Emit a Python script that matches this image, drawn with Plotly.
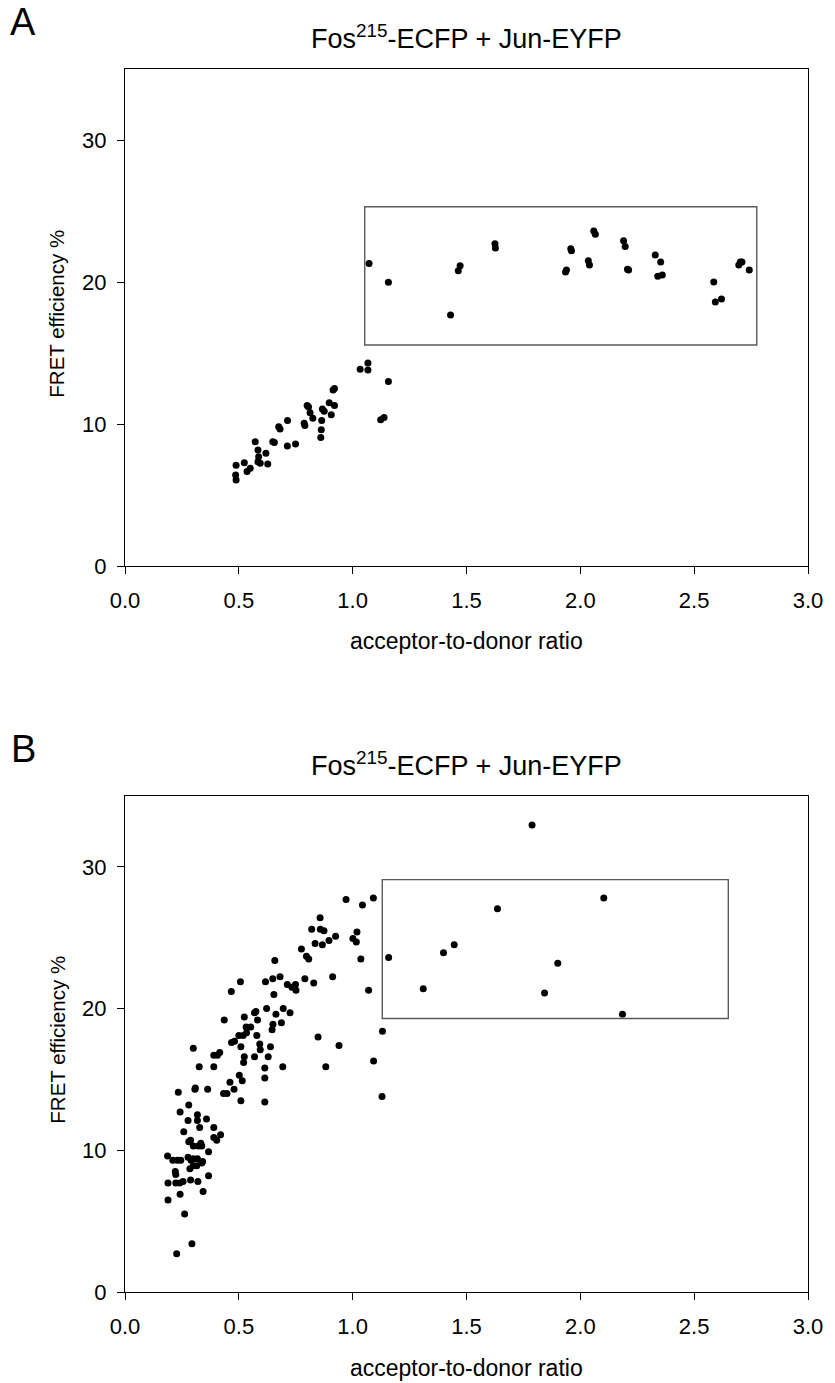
import plotly.graph_objects as go
from plotly.subplots import make_subplots

# ---------------- Data ----------------
# Panel A: Fos215-ECFP + Jun-EYFP
a_x = [0.486, 0.488, 0.488, 0.524, 0.536, 0.550, 0.572, 0.584, 0.584, 0.594,
       0.587, 0.619, 0.627, 0.649, 0.656, 0.675, 0.681, 0.713, 0.714, 0.749,
       0.787, 0.790, 0.800, 0.806, 0.813, 0.825, 0.860, 0.862, 0.864, 0.867,
       0.875, 0.897, 0.906, 0.914, 0.920, 0.920, 1.033, 1.067, 1.067, 1.123,
       1.138, 1.157,
       1.072, 1.157, 1.430, 1.464, 1.472, 1.625, 1.627, 1.935, 1.939, 1.958,
       1.961, 2.035, 2.040, 2.059, 2.066, 2.190, 2.197, 2.207, 2.212, 2.329,
       2.353, 2.340, 2.360, 2.586, 2.593, 2.620, 2.696, 2.703, 2.710, 2.742]
a_y = [6.40, 6.06, 7.10, 7.27, 6.65, 6.88, 8.75, 8.17, 7.35, 7.23,
       7.70, 7.94, 7.18, 8.75, 8.70, 9.80, 9.65, 8.45, 10.25, 8.60,
       10.05, 9.90, 11.30, 11.20, 10.80, 10.40, 9.05, 9.60, 10.25, 11.05,
       10.90, 11.50, 10.65, 12.40, 12.50, 11.30, 13.85, 14.30, 13.80, 10.30,
       10.45, 13.00,
       21.30, 19.98, 17.68, 20.80, 21.15, 22.70, 22.40, 20.70, 20.85, 22.35,
       22.20, 21.50, 21.20, 23.60, 23.36, 22.90, 22.50, 20.90, 20.85, 21.90,
       21.40, 20.40, 20.50, 20.00, 18.60, 18.80, 21.20, 21.40, 21.40, 20.85]

# Panel B: Fos215-ECFP + Jun-EYFP
b_x = [0.187, 0.189, 0.189, 0.234, 0.242, 0.258, 0.277, 0.280, 0.300, 0.307,
       0.309, 0.326, 0.318, 0.318, 0.328, 0.358, 0.363, 0.390, 0.390, 0.406,
       0.416, 0.436, 0.390, 0.390, 0.403, 0.420, 0.367, 0.367, 0.343, 0.320,
       0.288, 0.262, 0.294, 0.227, 0.242, 0.223, 0.240, 0.255, 0.221, 0.223,
       0.210, 0.230, 0.245, 0.277, 0.290, 0.300, 0.318, 0.285, 0.300, 0.315,
       0.337, 0.341, 0.280, 0.288, 0.300, 0.322, 0.337, 0.333, 0.433, 0.448,
       0.461, 0.479, 0.509, 0.502, 0.515, 0.521, 0.524, 0.509, 0.468, 0.481,
       0.500, 0.519, 0.534, 0.532, 0.552, 0.524, 0.569, 0.575, 0.582, 0.579,
       0.592, 0.594, 0.569, 0.614, 0.614, 0.614, 0.629, 0.639, 0.646, 0.650,
       0.622, 0.663, 0.687, 0.695, 0.725, 0.693, 0.848, 0.882, 0.940, 1.092,
       1.131, 1.129, 2.185,
       0.971, 1.043, 1.091, 0.857, 0.820, 0.858, 0.874, 0.835, 0.867, 0.896,
       0.925, 1.001, 1.019, 1.016, 0.775, 0.797, 0.807, 1.036, 1.158, 0.658,
       1.310, 1.070, 0.912, 0.790, 0.829, 0.681, 0.649, 0.617, 0.507, 0.467,
       0.654, 0.713, 0.749, 0.733, 0.751,
       1.399, 1.446, 1.636, 2.103, 1.901, 1.843, 1.788]
b_y = [9.6, 7.7, 6.5, 14.1, 12.7, 11.3, 12.1, 13.2, 17.2, 14.3,
       14.4, 15.9, 12.5, 12.1, 11.6, 12.2, 14.3, 15.9, 16.7, 16.7,
       16.9, 19.2, 11.6, 10.9, 10.7, 11.1, 9.9, 8.2, 7.1, 7.8,
       7.9, 5.5, 3.4, 2.7, 6.9, 7.7, 7.7, 7.8, 8.5, 8.3,
       9.3, 9.3, 9.3, 9.5, 9.3, 9.4, 9.4, 8.7, 8.9, 8.9,
       9.1, 9.2, 10.6, 10.7, 10.3, 10.3, 10.3, 10.5, 14.0, 14.0,
       14.8, 14.3, 13.5, 15.3, 14.9, 16.2, 16.6, 17.3, 17.6, 17.7,
       18.1, 18.1, 18.3, 18.7, 18.7, 19.4, 19.7, 19.8, 19.2, 18.1,
       17.5, 17.1, 16.6, 15.8, 15.1, 13.4, 16.6, 17.3, 18.5, 18.9,
       20.0, 19.6, 19.0, 20.0, 19.7, 15.9, 18.0, 15.9, 17.4, 16.3,
       18.4, 13.8, 19.6,
       27.7, 27.3, 27.8, 26.4, 25.6, 25.6, 25.5, 24.6, 24.5, 24.8,
       25.1, 24.95, 25.4, 24.7, 24.2, 23.7, 23.5, 23.5, 23.6, 23.4,
       21.4, 21.3, 22.25, 22.1, 21.8, 22.25, 22.1, 21.9, 21.9, 21.2,
       21.0, 21.7, 21.7, 21.5, 21.3,
       23.94, 24.5, 27.04, 27.8, 23.2, 21.1, 32.96]

# Highlight rectangles (data units): x0, x1, y0, y1
a_box = [1.053, 2.775, 15.56, 25.3]
b_box = [1.13, 2.65, 19.3, 29.1]

title_text = "Fos<sup>215</sup>-ECFP + Jun-EYFP"
x_title = "acceptor-to-donor ratio"
y_title = "FRET efficiency %"
x_ticks = [0.0, 0.5, 1.0, 1.5, 2.0, 2.5, 3.0]
y_ticks = [0, 10, 20, 30]

# ---------------- Figure ----------------
FONT = "Liberation Sans, Arial, sans-serif"
W, H = 835, 1383
ML, MR, MT, MB = 125, 20, 69, 91
PH = H - MT - MB  # plot-area height in px

def py(Y):
    """pixel row -> paper fraction"""
    return (H - MB - Y) / PH

def px(X):
    return (X - ML) / (W - ML - MR)

fig = make_subplots(rows=2, cols=1, vertical_spacing=0.0)

fig.add_trace(go.Scatter(x=a_x, y=a_y, mode="markers",
                         marker=dict(color="black", size=7),
                         showlegend=False), row=1, col=1)
fig.add_trace(go.Scatter(x=b_x, y=b_y, mode="markers",
                         marker=dict(color="black", size=7),
                         showlegend=False), row=2, col=1)

axis_common = dict(showline=True, mirror=True, linecolor="black", linewidth=1.3,
                   ticks="outside", ticklen=7, tickwidth=1.2, tickcolor="black",
                   showgrid=False, zeroline=False,
                   tickfont=dict(family=FONT, size=22, color="black"))

fig.update_xaxes(range=[0, 3], tickvals=x_ticks,
                 ticktext=[f"{v:.1f}" for v in x_ticks],
                 ticklabelstandoff=7, **axis_common)
fig.update_yaxes(range=[0, 35], tickvals=y_ticks, ticklabelstandoff=6,
                 **axis_common)

fig.update_layout(
    yaxis=dict(domain=[py(566), 1.0]),
    yaxis2=dict(domain=[0.0, py(796)]),
)

# Rectangles
fig.add_shape(type="rect", xref="x", yref="y",
              x0=a_box[0], x1=a_box[1], y0=a_box[2], y1=a_box[3],
              line=dict(color="#5a5a5a", width=1.4))
fig.add_shape(type="rect", xref="x2", yref="y2",
              x0=b_box[0], x1=b_box[1], y0=b_box[2], y1=b_box[3],
              line=dict(color="#5a5a5a", width=1.4))

title_font = dict(family=FONT, size=27, color="black")
xt_font = dict(family=FONT, size=23, color="black")
yt_font = dict(family=FONT, size=20.5, color="black")
letter_font = dict(family=FONT, size=38, color="black")

annotations = [
    # titles
    dict(text=title_text, x=0.5, y=py(37), xref="paper", yref="paper",
         xanchor="center", yanchor="middle", showarrow=False, font=title_font),
    dict(text=title_text, x=0.5, y=py(764), xref="paper", yref="paper",
         xanchor="center", yanchor="middle", showarrow=False, font=title_font),
    # panel letters
    dict(text="A", x=px(22), y=py(22), xref="paper", yref="paper",
         xanchor="center", yanchor="middle", showarrow=False, font=letter_font),
    dict(text="B", x=px(22), y=py(749), xref="paper", yref="paper",
         xanchor="center", yanchor="middle", showarrow=False, font=letter_font),
    # x axis titles
    dict(text=x_title, x=0.5, y=py(641), xref="paper", yref="paper",
         xanchor="center", yanchor="middle", showarrow=False, font=xt_font),
    dict(text=x_title, x=0.5, y=py(1368), xref="paper", yref="paper",
         xanchor="center", yanchor="middle", showarrow=False, font=xt_font),
    # y axis titles
    dict(text=y_title, x=px(56), y=py(314), xref="paper", yref="paper",
         xanchor="center", yanchor="middle", textangle=-90, showarrow=False,
         font=yt_font),
    dict(text=y_title, x=px(56), y=py(1040), xref="paper", yref="paper",
         xanchor="center", yanchor="middle", textangle=-90, showarrow=False,
         font=yt_font),
]

fig.update_layout(
    width=W, height=H,
    margin=dict(l=ML, r=MR, t=MT, b=MB),
    paper_bgcolor="white", plot_bgcolor="white",
    annotations=annotations,
    font=dict(family=FONT, color="black"),
)

fig.write_html("out.html",
               config={"displayModeBar": False},
               post_script="document.body.style.margin='0';"
                           "document.body.style.overflow='hidden';")
